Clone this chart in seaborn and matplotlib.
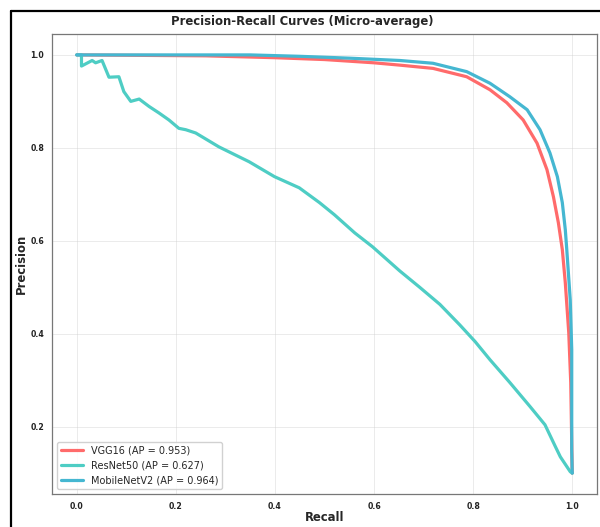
import matplotlib
matplotlib.use("Agg")
import matplotlib.pyplot as plt
from matplotlib.lines import Line2D
import pandas as pd
import seaborn as sns

# Values (recall, precision)
vgg_recall = [0.0, 0.26, 0.40, 0.50, 0.60, 0.652, 0.719, 0.787, 0.834, 0.868,
              0.901, 0.929, 0.949, 0.962, 0.972, 0.980, 0.986, 0.993, 0.997, 1.0]
vgg_precision = [1.0, 0.998, 0.994, 0.990, 0.983, 0.978, 0.971, 0.953, 0.925, 0.897,
                 0.860, 0.810, 0.753, 0.695, 0.639, 0.581, 0.510, 0.402, 0.295, 0.10]

resnet_recall = [0.0, 0.0095, 0.0095, 0.031, 0.038, 0.051, 0.065, 0.085, 0.095, 0.109,
                 0.126, 0.146, 0.166, 0.186, 0.206, 0.220, 0.240, 0.287, 0.348, 0.399,
                 0.449, 0.490, 0.520, 0.561, 0.597, 0.652, 0.692, 0.733, 0.773, 0.804,
                 0.834, 0.874, 0.915, 0.945, 0.966, 0.976, 0.996, 1.0]
resnet_precision = [1.0, 1.0, 0.976, 0.988, 0.983, 0.988, 0.952, 0.953, 0.921, 0.900,
                    0.905, 0.889, 0.875, 0.860, 0.842, 0.839, 0.832, 0.802, 0.770, 0.738,
                    0.714, 0.682, 0.656, 0.617, 0.587, 0.535, 0.500, 0.463, 0.419, 0.383,
                    0.344, 0.295, 0.243, 0.204, 0.157, 0.135, 0.103, 0.10]

mobile_recall = [0.0, 0.35, 0.45, 0.55, 0.652, 0.719, 0.787, 0.834, 0.874, 0.909,
                 0.935, 0.955, 0.970, 0.980, 0.986, 0.989, 0.996, 0.999, 0.999, 1.0]
mobile_precision = [1.0, 1.0, 0.997, 0.993, 0.988, 0.982, 0.964, 0.939, 0.910, 0.882,
                    0.839, 0.789, 0.738, 0.682, 0.624, 0.581, 0.473, 0.366, 0.15, 0.10]

models = ["VGG16", "ResNet50", "MobileNetV2"]
ap_scores = [0.953, 0.627, 0.964]
colors = ["#FF6B6B", "#4ECDC4", "#45B7D1"]
curves = [(vgg_recall, vgg_precision), (resnet_recall, resnet_precision),
          (mobile_recall, mobile_precision)]

x_ticks = [0.0, 0.2, 0.4, 0.6, 0.8, 1.0]
y_ticks = [0.2, 0.4, 0.6, 0.8, 1.0]

sns.set_style("white")
plt.rcParams['font.family'] = ['DejaVu Sans']

fig = plt.figure(figsize=(6.0, 5.27), dpi=100)
ax = fig.add_axes([52 / 600, 1 - 494 / 527, 545 / 600, 460 / 527])

for name, ap, col, (rec, prec) in zip(models, ap_scores, colors, curves):
    df = pd.DataFrame({"Recall": rec, "Precision": prec})
    sns.lineplot(data=df, x="Recall", y="Precision", sort=False, estimator=None,
                 color=col, linewidth=2.3, label=f"{name} (AP = {ap:.3f})", ax=ax)

ax.set_xticks(x_ticks)
ax.set_yticks(y_ticks)
ax.set_xticklabels([f"{t:.1f}" for t in x_ticks], fontweight="bold", fontsize=5.6)
ax.set_yticklabels([f"{t:.1f}" for t in y_ticks], fontweight="bold", fontsize=5.6)
ax.tick_params(axis="both", length=2.5, width=0.6, colors="#222222", pad=3)
ax.grid(True, alpha=0.45, linewidth=0.6)
for s in ax.spines.values():
    s.set_color("#777777")
    s.set_linewidth(0.9)

ax.set_xlabel("Recall", fontweight="bold", fontsize=8.4)
ax.set_ylabel("Precision", fontweight="bold", fontsize=8.4)
ax.xaxis.set_label_coords(0.5, -17 / 460)
ax.yaxis.set_label_coords(-24 / 545, 0.5)
fig.text(302 / 600, 1 - 22 / 527, "Precision-Recall Curves (Micro-average)",
         ha="center", va="center", fontweight="bold", fontsize=8.4)

ax.legend(loc="lower left", fontsize=7.0, handlelength=2.3, frameon=True,
          framealpha=0.9, edgecolor="#cccccc", fancybox=True)

# page frame from the screenshot
fig.add_artist(Line2D([11 / 600, 11 / 600], [0, 1 - 11 / 527], color="black",
                      linewidth=1.6, transform=fig.transFigure))
fig.add_artist(Line2D([11 / 600, 1], [1 - 11 / 527, 1 - 11 / 527], color="black",
                      linewidth=1.6, transform=fig.transFigure))

fig.savefig("out.png", dpi=100)
